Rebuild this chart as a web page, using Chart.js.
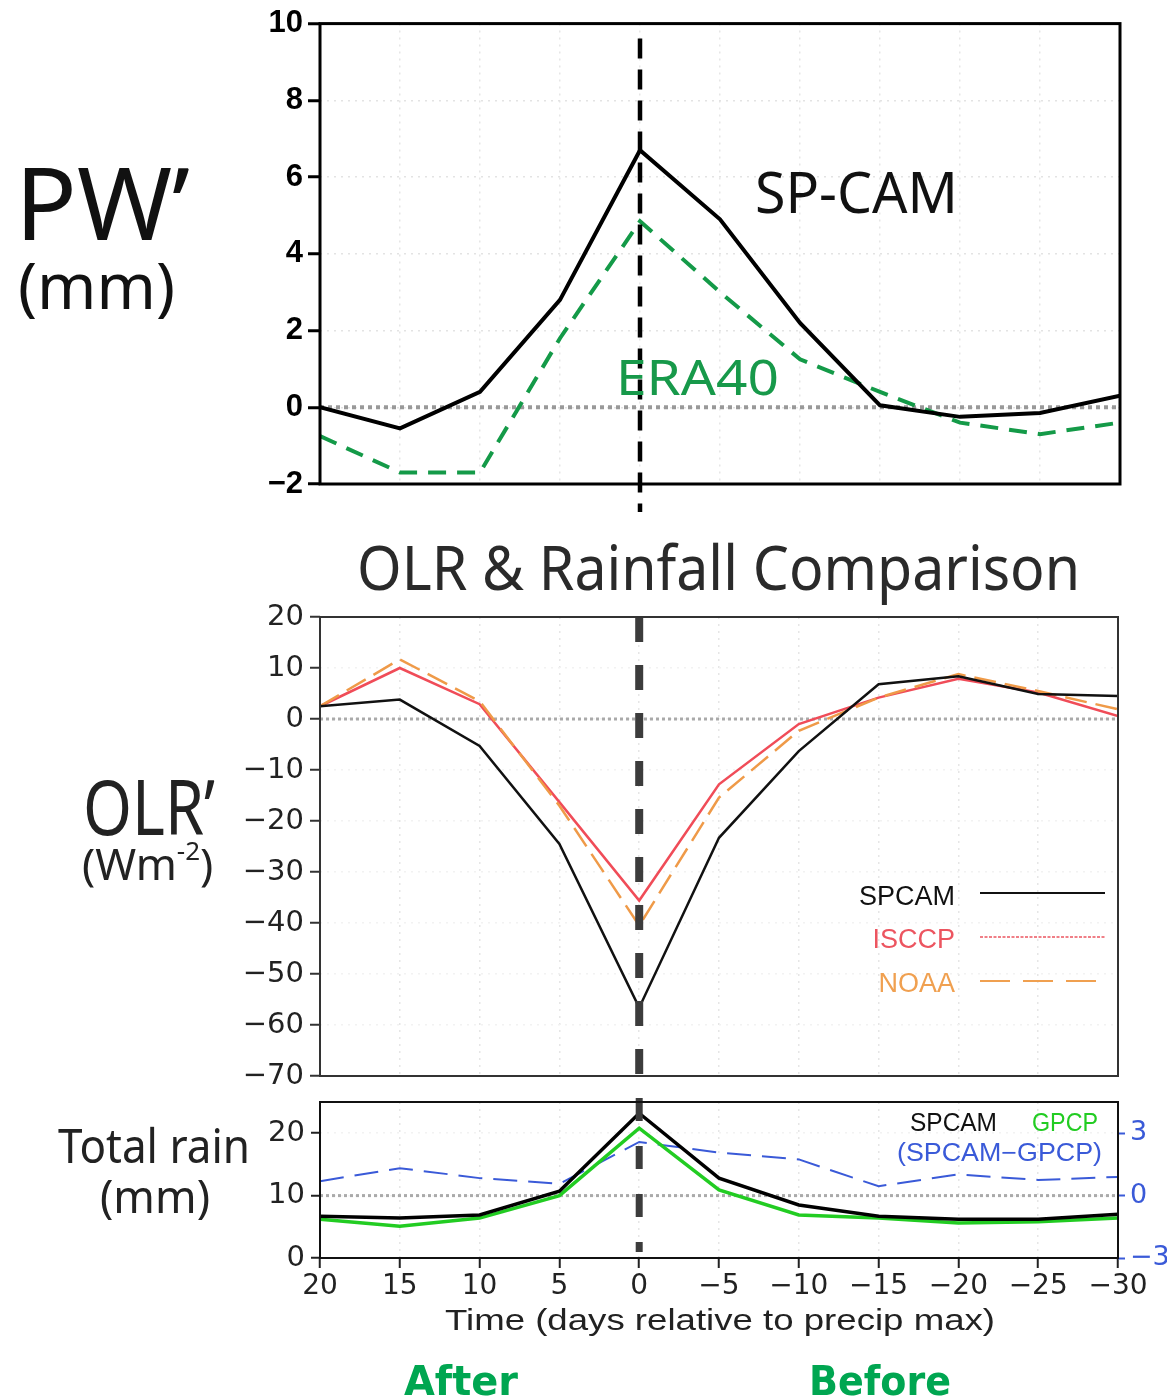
<!DOCTYPE html>
<html><head><meta charset="utf-8">
<script src="https://cdn.jsdelivr.net/npm/chart.js@4.4.1/dist/chart.umd.min.js"></script>
<style>
html,body{margin:0;padding:0;background:#fff;}
#wrap{position:relative;width:1167px;height:1399px;overflow:hidden;background:#fff}
#wrap canvas{position:absolute;left:0}
#ov{position:absolute;left:0;top:0;pointer-events:none}
</style></head><body>
<div id="wrap">
<canvas id="pw" width="1167" height="525" style="top:0"></canvas>
<canvas id="olr" width="1167" height="516" style="top:590px"></canvas>
<canvas id="rain" width="1167" height="253" style="top:1072px"></canvas>
<svg id="ov" width="1167" height="1399" xmlns="http://www.w3.org/2000/svg">
  <g font-family="Noto Sans" fill="#111">
    <text x="15" y="240" font-size="100" textLength="175" lengthAdjust="spacingAndGlyphs">PW’</text>
    <text x="18" y="309" font-size="64" textLength="157" lengthAdjust="spacingAndGlyphs">(mm)</text>
    <text x="83" y="835" font-size="76" textLength="132" lengthAdjust="spacingAndGlyphs" fill="#222">OLR’</text>
    <text x="82" y="880" font-size="44" fill="#222">(Wm<tspan font-size="26" dy="-20">-2</tspan><tspan dy="20">)</tspan></text>
    <text x="58" y="1163" font-size="48" textLength="192" lengthAdjust="spacingAndGlyphs" fill="#222">Total rain</text>
    <text x="100" y="1213" font-size="46" textLength="110" lengthAdjust="spacingAndGlyphs" fill="#222">(mm)</text>
    <text x="357" y="590" font-size="62" textLength="723" lengthAdjust="spacingAndGlyphs" fill="#2a2a2a">OLR &amp; Rainfall Comparison</text>
    <text x="755" y="213" font-size="56" textLength="203" lengthAdjust="spacingAndGlyphs">SP-CAM</text>
    <text x="616" y="395" font-size="50" textLength="163" lengthAdjust="spacingAndGlyphs" fill="#17994a">ERA40</text>
  </g>
  <g font-family="Liberation Sans" font-size="27" text-anchor="end">
    <text x="955" y="905" fill="#111">SPCAM</text>
    <text x="955" y="948" fill="#ec5560">ISCCP</text>
    <text x="955" y="992" fill="#f0a050">NOAA</text>
  </g>
  <line x1="980" y1="893" x2="1105" y2="893" stroke="#111" stroke-width="2"/>
  <line x1="980" y1="937" x2="1105" y2="937" stroke="#ec5560" stroke-width="1.5" stroke-dasharray="3 1.5"/>
  <line x1="980" y1="981" x2="1100" y2="981" stroke="#f0a050" stroke-width="2" stroke-dasharray="30 13"/>
  <g font-family="Liberation Sans" font-size="25">
    <text x="910" y="1131" fill="#111" textLength="87" lengthAdjust="spacingAndGlyphs">SPCAM</text>
    <text x="1032" y="1131" fill="#22cc22" textLength="66" lengthAdjust="spacingAndGlyphs">GPCP</text>
    <text x="897" y="1161" fill="#3a5ad8" textLength="205" lengthAdjust="spacingAndGlyphs">(SPCAM−GPCP)</text>
  </g>
  <text x="445" y="1330" font-family="Liberation Sans" font-size="30" fill="#222" textLength="550" lengthAdjust="spacingAndGlyphs">Time (days relative to precip max)</text>
  <g font-family="DejaVu Sans" font-weight="bold" font-size="40" fill="#00a651">
    <text x="404" y="1395" textLength="114" lengthAdjust="spacingAndGlyphs">After</text>
    <text x="809" y="1395" textLength="142" lengthAdjust="spacingAndGlyphs">Before</text>
  </g>
</svg>
</div>
<script>
// ---- data ----
const days = [20, 15, 10, 5, 0, -5, -10, -15, -20, -25, -30];
const pwSpcam = [0, -0.55, 0.4, 2.8, 6.7, 4.9, 2.2, 0.05, -0.25, -0.15, 0.3];
const pwEra40 = [-0.75, -1.7, -1.7, 1.8, 4.85, 3.0, 1.25, 0.4, -0.4, -0.7, -0.4];
const olrSpcam = [2.5, 3.8, -5.3, -24.5, -56.6, -23.3, -6.3, 6.8, 8.4, 4.9, 4.5];
const olrIsccp = [2.5, 10.0, 2.9, -16.3, -35.6, -12.8, -1.0, 4.2, 7.9, 5.2, 0.6];
const olrNoaa = [2.5, 11.7, 3.5, -17.0, -40.5, -15.4, -2.3, 4.2, 8.8, 5.5, 1.9];
const rainSpcam = [6.7, 6.4, 6.9, 10.7, 23.2, 12.8, 8.5, 6.7, 6.2, 6.2, 7.0];
const rainGpcp = [6.2, 5.1, 6.4, 10.0, 20.8, 10.9, 6.9, 6.4, 5.6, 5.8, 6.4];
const rainDiff = [0.69, 1.32, 0.84, 0.57, 2.58, 2.07, 1.74, 0.45, 1.02, 0.75, 0.9];
const xTicks = [20, 15, 10, 5, 0, -5, -10, -15, -20, -25, -30];
const pwTicks = [-2, 0, 2, 4, 6, 8, 10];
const olrTicks = [20, 10, 0, -10, -20, -30, -40, -50, -60, -70];
const rainTicks = [0, 10, 20];
const diffTicks = [-3, 0, 3];

const pts = arr => days.map((d, i) => ({x: d, y: arr[i]}));
const fmt = v => String(v).replace('-', '\u2212');
const setTicks = list => s => { s.ticks = list.map(v => ({value: v})); };

const decor = {
  id: 'decor',
  beforeDatasetsDraw(chart, args, o) {
    const {ctx, chartArea: a, scales} = chart;
    if (o.ref) {
      const y = scales.y.getPixelForValue(o.ref.value);
      ctx.save();
      ctx.strokeStyle = o.ref.color; ctx.lineWidth = o.ref.width; ctx.setLineDash(o.ref.dash);
      ctx.beginPath(); ctx.moveTo(a.left, y); ctx.lineTo(a.right, y); ctx.stroke();
      ctx.restore();
    }
  },
  afterDatasetsDraw(chart, args, o) {
    const {ctx, chartArea: a, scales} = chart;
    ctx.save();
    if (o.vline) {
      const x = scales.x.getPixelForValue(o.vline.value);
      ctx.strokeStyle = o.vline.color; ctx.lineWidth = o.vline.width; ctx.setLineDash(o.vline.dash);
      ctx.lineCap = 'butt';
      ctx.beginPath(); ctx.moveTo(x, a.top + o.vline.top); ctx.lineTo(x, a.bottom + o.vline.bottom); ctx.stroke();
    }
    ctx.setLineDash([]);
    ctx.strokeStyle = o.frame.color; ctx.lineWidth = o.frame.width;
    ctx.strokeRect(a.left, a.top, a.right - a.left, a.bottom - a.top);
    ctx.restore();
  }
};
Chart.register(decor);

const tickFont = {family: 'DejaVu Sans', size: 29};

function xScale(showLabels, h) {
  return {
    type: 'linear', min: -30, max: 20, reverse: true,
    afterBuildTicks: setTicks(xTicks),
    afterFit: s => { s.height = h; },
    ticks: {display: showLabels, font: {family: 'DejaVu Sans', size: 28}, color: '#222', padding: 2, callback: fmt, maxRotation: 0, autoSkip: false},
    grid: {color: '#e6e6e6', lineWidth: 1.5, drawTicks: showLabels, tickColor: '#222', tickLength: 10, tickWidth: 2},
    border: {display: false, dash: [2, 5]}
  };
}

// ---- PW' panel ----
new Chart(document.getElementById('pw'), {
  type: 'line',
  data: {datasets: [
    {label: 'SP-CAM', data: pts(pwSpcam), borderColor: '#000', borderWidth: 4, pointRadius: 0, tension: 0},
    {label: 'ERA40', data: pts(pwEra40), borderColor: '#149a48', borderWidth: 4, borderDash: [18, 11], pointRadius: 0, tension: 0}
  ]},
  options: {
    responsive: false, animation: false,
    layout: {padding: {left: 0, right: 47, top: 22, bottom: 41}},
    plugins: {legend: {display: false}, tooltip: {enabled: false},
      decor: {ref: {value: 0, color: '#999', width: 4, dash: [4, 4]},
              vline: {value: 0, color: '#000', width: 4.5, dash: [20, 11], top: 15, bottom: 28},
              frame: {color: '#000', width: 3}}},
    scales: {
      x: xScale(false, 0),
      y: {min: -2, max: 10, afterBuildTicks: setTicks(pwTicks), afterFit: s => { s.width = 320; },
        ticks: {font: {family: 'Liberation Sans', size: 31, weight: 'bold'}, color: '#000', padding: 5, callback: fmt},
        grid: {color: '#e3e3e3', lineWidth: 1.5, tickColor: '#000', tickLength: 12, tickWidth: 3},
        border: {display: false, dash: [2, 5]}}
    }
  }
});

// ---- OLR' panel ----
new Chart(document.getElementById('olr'), {
  type: 'line',
  data: {datasets: [
    {label: 'SPCAM', data: pts(olrSpcam), borderColor: '#111', borderWidth: 2.5, pointRadius: 0, tension: 0},
    {label: 'NOAA', data: pts(olrNoaa), borderColor: '#ef9a48', borderWidth: 2.5, borderDash: [22, 9], pointRadius: 0, tension: 0},
    {label: 'ISCCP', data: pts(olrIsccp), borderColor: '#f04c58', borderWidth: 2.5, pointRadius: 0, tension: 0}
  ]},
  options: {
    responsive: false, animation: false,
    layout: {padding: {left: 0, right: 49, top: 27, bottom: 30}},
    plugins: {legend: {display: false}, tooltip: {enabled: false},
      decor: {ref: {value: 0, color: '#aaa', width: 3, dash: [3, 3]},
              vline: {value: 0, color: '#3c3c3c', width: 8, dash: [25, 23], top: 0, bottom: 0},
              frame: {color: '#333', width: 2}}},
    scales: {
      x: xScale(false, 0),
      y: {min: -70, max: 20, afterBuildTicks: setTicks(olrTicks), afterFit: s => { s.width = 320; },
        ticks: {font: tickFont, color: '#222', padding: 6, callback: fmt},
        grid: {color: '#f2f2f2', lineWidth: 1.5, tickColor: '#333', tickLength: 10, tickWidth: 2},
        border: {display: false, dash: [2, 5]}}
    }
  }
});

// ---- Total rain panel ----
new Chart(document.getElementById('rain'), {
  type: 'line',
  data: {datasets: [
    {label: 'SPCAM', data: pts(rainSpcam), borderColor: '#000', borderWidth: 3.5, pointRadius: 0, tension: 0, yAxisID: 'y'},
    {label: 'GPCP', data: pts(rainGpcp), borderColor: '#22cc22', borderWidth: 3.5, pointRadius: 0, tension: 0, yAxisID: 'y'},
    {label: '(SPCAM\u2212GPCP)', data: pts(rainDiff), borderColor: '#3a5ad8', borderWidth: 2, borderDash: [24, 11], pointRadius: 0, tension: 0, yAxisID: 'y2'}
  ]},
  options: {
    responsive: false, animation: false,
    layout: {padding: {left: 0, right: 0, top: 30, bottom: 17}},
    plugins: {legend: {display: false}, tooltip: {enabled: false},
      decor: {ref: {value: 10, color: '#aaa', width: 3, dash: [3, 3]},
              vline: {value: 0, color: '#3c3c3c', width: 7, dash: [23, 25], top: -4, bottom: -6},
              frame: {color: '#111', width: 2}}},
    scales: {
      x: xScale(true, 50),
      y: {min: 0, max: 25, afterBuildTicks: setTicks(rainTicks), afterFit: s => { s.width = 320; },
        ticks: {font: tickFont, color: '#222', padding: 6, callback: fmt},
        grid: {color: '#f2f2f2', lineWidth: 1.5, tickColor: '#222', tickLength: 9, tickWidth: 2},
        border: {display: false, dash: [2, 5]}},
      y2: {position: 'right', min: -3, max: 4.5, afterBuildTicks: setTicks(diffTicks), afterFit: s => { s.width = 49; },
        ticks: {font: {family: 'DejaVu Sans', size: 27}, color: '#3a5ad8', padding: 5, callback: fmt},
        grid: {drawOnChartArea: false, tickColor: '#3a5ad8', tickLength: 7, tickWidth: 2},
        border: {display: false}}
    }
  }
});
</script>
</body></html>
